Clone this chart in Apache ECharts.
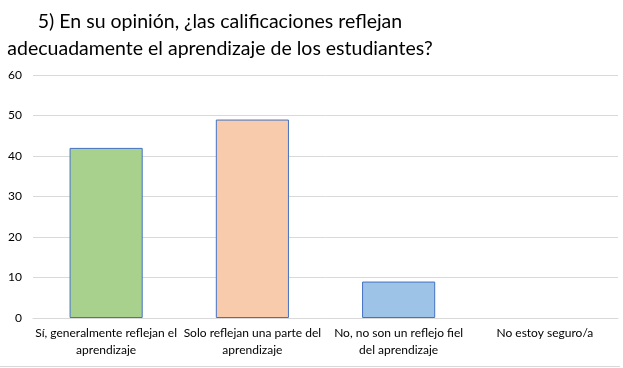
<!DOCTYPE html>
<html>
<head>
<meta charset="utf-8">
<script src="https://cdn.jsdelivr.net/npm/echarts@6/dist/echarts.min.js"></script>
<style>
  html, body { margin: 0; padding: 0; background: #fff; }
  #myCharts { width: 623px; height: 368px; }
</style>
</head>
<body>
<div id="myCharts"></div>
<script>
let dataName = [
  "Sí, generalmente reflejan el\naprendizaje",
  "Solo reflejan una parte del\naprendizaje",
  "No, no son un reflejo fiel\ndel aprendizaje",
  "No estoy seguro/a"
];
let dataList = [42, 49, 9, 0];
let barColors = ["#A9D18E", "#F8CBAD", "#9DC3E6", "#9DC3E6"];
let titleText = "5) En su opinión, ¿las calificaciones reflejan\nadecuadamente el aprendizaje de los estudiantes?";

let myChart = echarts.init(document.getElementById("myCharts"));
let option = {
  animation: false,
  title: {
    text: titleText,
    left: 215,
    top: 3,
    textAlign: "center",
    textStyle: {
      fontFamily: "Lato",
      fontWeight: "normal",
      fontSize: 19.5,
      lineHeight: 27,
      color: "#000"
    }
  },
  grid: {
    left: 33,
    right: 5,
    top: 75,
    bottom: 50
  },
  xAxis: {
    type: "category",
    data: dataName,
    axisTick: { show: false },
    axisLine: { lineStyle: { color: "#d9d9d9" } },
    axisLabel: {
      interval: 0,
      margin: 7,
      fontFamily: "Lato",
      fontSize: 12,
      lineHeight: 17,
      color: "#000"
    }
  },
  yAxis: {
    type: "value",
    min: 0,
    max: 60,
    interval: 10,
    axisLine: { show: false },
    axisTick: { show: false },
    splitLine: { lineStyle: { color: "#d9d9d9" } },
    axisLabel: {
      margin: 11,
      fontFamily: "Lato",
      fontSize: 12,
      color: "#000"
    }
  },
  series: [
    {
      type: "bar",
      barWidth: "50%",
      data: dataList.map(function (v, i) {
        return {
          value: v,
          itemStyle: { color: barColors[i], borderWidth: v > 0 ? 1 : 0 }
        };
      }),
      itemStyle: {
        borderColor: "#4472C4"
      }
    }
  ],
  graphic: [
    {
      type: "line",
      shape: { x1: 0, y1: 366.5, x2: 620, y2: 366.5 },
      style: { stroke: "#d9d9d9", lineWidth: 1 }
    }
  ]
};
myChart.setOption(option);
</script>
</body>
</html>
